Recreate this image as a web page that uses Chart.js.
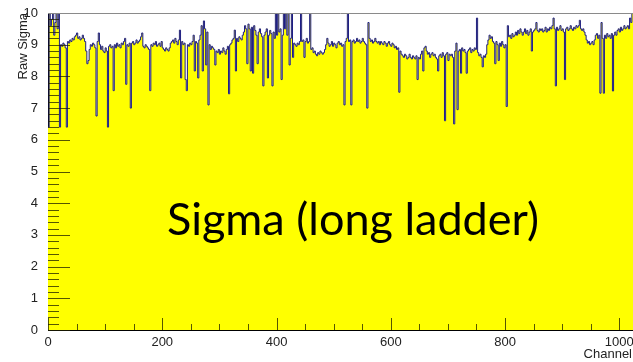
<!DOCTYPE html>
<html>
<head>
<meta charset="utf-8">
<script src="https://cdn.jsdelivr.net/npm/chart.js@4.4.1/dist/chart.umd.min.js"></script>
<style>
    html, body { margin: 0; padding: 0; background: #ffffff; }
    #wrap { position: relative; width: 633px; height: 362px; }
</style>
</head>
<body>
<div id="wrap"><canvas id="chart" width="633" height="362"></canvas></div>
<script>
(function() {
    'use strict';

    // Raw sigma, one value per 2 channels (bin i = channels 2i, 2i+1).
    var sigmaCh0 = [
        6.4, 10.5, 9.6, 9.8, 10.5, 9.3, 9.7, 10.5, 9.5, 10.5, 6.4, 9.0, 8.95, 9.05, 9.0, 8.9,
        6.4, 9.1, 9.05, 9.15, 9.1, 9.2, 9.15, 9.25, 9.3, 9.37, 9.2, 9.25, 9.15, 9.2, 9.3, 9.2,
        9.1, 8.8, 8.4, 8.5, 8.85, 9.0, 8.95, 9.05, 9.0, 8.9, 6.75, 9.1, 9.37, 9.0, 8.85, 8.95,
        8.8, 8.75, 8.9, 8.8, 6.4, 8.95, 9.0, 8.9, 8.95, 7.55, 9.0, 8.9, 9.05, 8.95, 9.0, 8.9,
        9.05, 9.0, 9.1, 9.2, 7.75, 9.0, 8.95, 9.05, 7.0, 9.05, 9.1, 9.0, 9.05, 9.15, 9.05, 9.1,
        9.15, 9.25, 9.37, 8.95, 8.9, 9.0, 8.95, 8.9, 8.85, 7.55, 9.0, 8.95, 9.05, 9.0, 9.1, 8.95,
        9.0, 9.05, 8.95, 9.1, 8.9, 8.85, 8.8, 8.9, 8.85, 8.8, 8.9, 9.05, 9.1, 9.15, 9.05, 9.2,
        9.1, 9.0, 9.15, 9.46, 7.95, 9.1, 9.0, 9.05, 7.9, 7.55, 9.0, 8.95, 9.05, 9.0, 9.1, 9.3
    ];
    var sigmaCh256 = [
        8.17, 9.1, 9.05, 7.95, 9.15, 9.3, 9.6, 8.17, 9.75, 9.5, 8.36, 9.4, 7.1, 9.0, 8.85, 8.95,
        8.9, 8.85, 8.36, 8.8, 8.75, 8.85, 8.7, 8.8, 8.75, 8.9, 8.8, 8.7, 8.85, 8.95, 7.45, 9.0,
        9.05, 9.15, 9.2, 9.46, 8.17, 9.2, 9.1, 9.25, 9.2, 9.15, 9.3, 9.4, 9.6, 9.5, 8.4, 9.65,
        9.5, 8.17, 9.55, 8.1, 9.6, 9.45, 9.3, 8.4, 9.4, 9.5, 9.35, 9.25, 7.7, 9.3, 9.4, 9.5,
        7.95, 9.3, 9.45, 9.35, 7.7, 9.4, 9.2, 10.5, 9.3, 10.5, 9.4, 9.5, 7.9, 9.3, 10.5, 9.5,
        10.5, 9.3, 10.5, 8.36, 9.2, 10.5, 8.6, 9.05, 9.0, 8.95, 9.05, 9.0, 9.1, 10.5, 9.1, 9.15,
        8.6, 9.1, 9.2, 9.05, 9.1, 10.5, 8.85, 8.9, 8.75, 8.8, 8.7, 8.65, 8.75, 8.7, 8.8, 8.75,
        8.7, 8.75, 8.85, 9.0, 9.2, 9.05, 8.95, 9.0, 9.1, 8.95, 9.05, 9.0, 8.9, 9.05, 9.1, 9.0
    ];
    var sigmaCh512 = [
        9.05, 8.95, 9.0, 7.1, 9.1, 9.2, 10.5, 9.1, 9.15, 7.1, 9.1, 9.15, 9.05, 9.1, 9.2, 9.1,
        9.15, 9.05, 9.1, 9.2, 9.1, 9.05, 9.0, 7.0, 9.7, 9.2, 9.1, 9.15, 9.05, 9.1, 9.2, 9.1,
        9.05, 9.1, 9.0, 9.1, 9.05, 9.0, 9.1, 9.05, 8.95, 9.05, 9.1, 9.0, 8.95, 9.05, 9.0, 8.9,
        8.95, 8.85, 8.9, 7.5, 8.8, 8.7, 8.65, 8.6, 8.7, 8.65, 8.55, 8.6, 8.7, 8.6, 8.55, 8.65,
        8.6, 8.55, 8.65, 7.9, 8.6, 8.55, 8.7, 8.8, 8.17, 8.9, 8.95, 8.8, 8.7, 8.75, 8.6, 8.7,
        8.75, 8.65, 8.7, 8.6, 8.55, 8.17, 8.65, 8.7, 8.6, 8.75, 8.65, 6.6, 8.7, 8.75, 8.5, 8.7,
        8.65, 8.7, 8.6, 6.5, 8.8, 9.05, 6.95, 8.8, 8.85, 8.1, 8.9, 8.8, 8.85, 8.75, 8.1, 8.8,
        8.85, 8.9, 8.75, 8.85, 8.8, 8.9, 8.85, 9.84, 8.75, 8.65, 8.7, 8.6, 8.3, 8.65, 8.6, 8.7
    ];
    var sigmaCh768 = [
        9.0, 9.15, 9.3, 9.2, 9.25, 9.1, 9.05, 8.4, 9.1, 9.0, 8.5, 9.05, 8.95, 9.1, 9.0, 8.9,
        9.0, 7.05, 9.6, 9.25, 9.3, 9.2, 9.35, 9.25, 9.3, 9.4, 9.3, 9.45, 9.35, 9.5, 9.4, 9.3,
        9.4, 9.5, 9.35, 9.45, 9.3, 9.4, 9.5, 8.8, 9.4, 9.45, 9.5, 9.7, 9.45, 9.4, 9.5, 9.45,
        9.5, 9.4, 9.45, 9.55, 9.4, 9.5, 9.45, 9.55, 9.5, 9.6, 9.84, 9.5, 7.7, 9.55, 9.45, 9.5,
        9.6, 9.45, 9.5, 9.4, 7.9, 9.5, 9.55, 9.45, 9.5, 9.6, 9.5, 9.45, 9.55, 9.5, 9.6, 9.55,
        9.6, 9.77, 9.5, 9.45, 9.5, 9.4, 9.3, 9.15, 9.05, 9.1, 9.0, 9.05, 9.1, 9.0, 9.15, 9.3,
        9.35, 9.2, 9.3, 7.47, 9.7, 9.2, 7.47, 9.3, 9.2, 9.35, 9.25, 9.3, 9.2, 9.35, 7.54, 9.3,
        9.4, 9.3, 9.45, 9.5, 9.4, 9.55, 9.45, 9.5, 9.6, 9.5, 9.55, 9.6, 9.5, 9.84, 9.7, 10.5
    ];

    var channelsPerBin = 2;
    var channelMax = 1024;
    var xTickLabels = [0, 200, 400, 600, 800, 1000];
    var yTickLabels = [0, 1, 2, 3, 4, 5, 6, 7, 8, 9, 10];
    var xTitle = 'Channel';
    var yTitle = 'Raw Sigma';
    var overlayText = 'Sigma (long ladder)';

    var labelFont = "'Liberation Sans', Arial, sans-serif";

    /**
     * Histogram points: each bin starts at its first channel, the last one is repeated at the edge.
     */
    function buildPoints() {
        var values = sigmaCh0.concat(sigmaCh256, sigmaCh512, sigmaCh768);
        var pts = values.map(function(v, i) {
            return { x: i * channelsPerBin, y: v };
        });
        pts.push({ x: channelMax, y: values[values.length - 1] });
        return pts;
    }

    // ROOT style inside ticks, frame, titles and the slide caption.
    var rootFrame = {
        id: 'rootFrame',
        afterDatasetsDraw: function(chart) {
            var ctx = chart.ctx;
            var a = chart.chartArea;
            var xs = chart.scales.x;
            var ys = chart.scales.y;
            var i, p;

            ctx.save();
            ctx.strokeStyle = 'rgba(30,30,0,0.75)';
            ctx.lineWidth = 1;
            ctx.beginPath();
            for (i = 0; i <= 50; i++) {
                p = Math.round(ys.getPixelForValue(i / 5)) + 0.5;
                ctx.moveTo(a.left, p);
                ctx.lineTo(a.left + (i % 5 === 0 ? 22 : 11), p);
            }
            for (i = 0; i <= 20; i++) {
                p = Math.round(xs.getPixelForValue(i * 50)) + 0.5;
                ctx.moveTo(p, a.bottom);
                ctx.lineTo(p, a.bottom - (i % 4 === 0 ? 12 : 6));
            }
            ctx.stroke();

            // top edge of the frame
            ctx.strokeStyle = '#8a8a8a';
            ctx.beginPath();
            ctx.moveTo(a.left, Math.round(a.top) + 0.5);
            ctx.lineTo(a.right, Math.round(a.top) + 0.5);
            ctx.stroke();
            ctx.restore();
        },
        afterDraw: function(chart) {
            var ctx = chart.ctx;
            var a = chart.chartArea;

            ctx.save();
            ctx.fillStyle = '#222';
            ctx.font = '13px ' + labelFont;

            // axis titles, right aligned as ROOT does
            ctx.textAlign = 'right';
            ctx.textBaseline = 'alphabetic';
            ctx.fillText(xTitle, 632, 358);

            ctx.save();
            ctx.translate(27, a.top);
            ctx.rotate(-Math.PI / 2);
            ctx.textAlign = 'right';
            ctx.textBaseline = 'alphabetic';
            ctx.fillText(yTitle, 0, 0);
            ctx.restore();

            // caption pasted on the slide
            ctx.fillStyle = '#000';
            ctx.font = "45px Lato, 'Open Sans', sans-serif";
            ctx.textAlign = 'center';
            ctx.textBaseline = 'alphabetic';
            ctx.fillText(overlayText, 353, 235);
            ctx.restore();
        }
    };

    var ctx = document.getElementById('chart').getContext('2d');
    new Chart(ctx, {
        type: 'line',
        data: {
            datasets: [
                {
                    data: buildPoints(),
                    stepped: 'before',
                    fill: 'origin',
                    backgroundColor: '#ffff00',
                    borderColor: '#1e1e86',
                    borderWidth: 1,
                    pointRadius: 0,
                    tension: 0
                }
            ]
        },
        options: {
            responsive: false,
            animation: false,
            events: [],
            layout: {
                padding: { top: 13, right: 0, left: 0, bottom: 0 }
            },
            plugins: {
                legend: { display: false },
                tooltip: { enabled: false }
            },
            scales: {
                x: {
                    type: 'linear',
                    min: 0,
                    max: channelMax,
                    grid: { display: false },
                    border: { display: true, color: '#000', width: 1 },
                    ticks: {
                        autoSkip: false,
                        maxRotation: 0,
                        padding: -3,
                        color: '#222',
                        font: { family: labelFont, size: 13 },
                        callback: function(value) {
                            return String(value);
                        }
                    },
                    afterBuildTicks: function(scale) {
                        scale.ticks = xTickLabels.map(function(v) { return { value: v }; });
                    },
                    afterFit: function(scale) {
                        scale.height = 32;
                        scale.paddingLeft = 0;
                        scale.paddingRight = 0;
                    }
                },
                y: {
                    min: 0,
                    max: 10,
                    grid: { display: false },
                    border: { display: true, color: '#000', width: 1 },
                    ticks: {
                        padding: 2,
                        color: '#222',
                        font: { family: labelFont, size: 13 }
                    },
                    afterBuildTicks: function(scale) {
                        scale.ticks = yTickLabels.map(function(v) { return { value: v }; });
                    },
                    afterFit: function(scale) {
                        scale.width = 48;
                        scale.paddingTop = 0;
                        scale.paddingBottom = 0;
                    }
                }
            }
        },
        plugins: [rootFrame]
    });
})();
</script>
</body>
</html>
